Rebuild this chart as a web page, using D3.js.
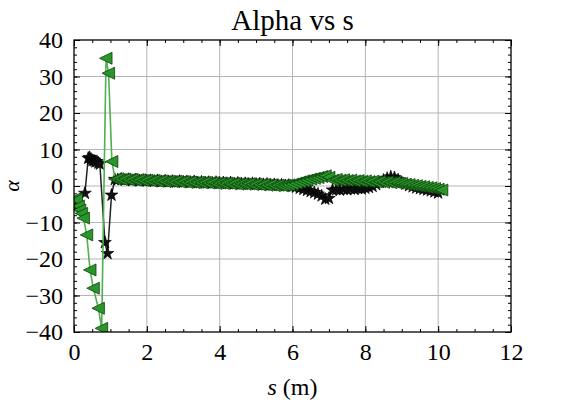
<!DOCTYPE html>
<html>
<head>
<meta charset="utf-8">
<script src="https://cdn.jsdelivr.net/npm/d3@7"></script>
<style>
  html, body { margin: 0; padding: 0; background: #fff; }
  svg { display: block; }
  text { font-family: "Liberation Serif", "Times New Roman", serif; fill: #000; }
</style>
</head>
<body>
<svg id="chart" width="576" height="406"></svg>
<script>
// ---- data ----
const sX = [0.06, 0.3, 0.39, 0.43, 0.47, 0.51, 0.55, 0.59, 0.63, 0.67, 0.71, 0.85, 0.92, 1.03, 1.12,
  1.2, 1.3, 1.4, 1.5, 1.6, 1.7, 1.8, 1.9, 2.0,
  2.1, 2.2, 2.3, 2.4, 2.5, 2.6, 2.7, 2.8, 2.9, 3.0,
  3.1, 3.2, 3.3, 3.4, 3.5, 3.6, 3.7, 3.8, 3.9, 4.0,
  4.1, 4.2, 4.3, 4.4, 4.5, 4.6, 4.7, 4.8, 4.9, 5.0,
  5.1, 5.2, 5.3, 5.4, 5.5, 5.6, 5.7, 5.8, 5.9, 6.0,
  6.1, 6.2, 6.3, 6.4, 6.5, 6.6, 6.7, 6.8, 6.9, 7.0,
  7.1, 7.2, 7.3, 7.4, 7.5, 7.6, 7.7, 7.8, 7.9, 8.0,
  8.1, 8.2, 8.3, 8.4, 8.5, 8.6, 8.7, 8.8, 8.9, 9.0,
  9.1, 9.2, 9.3, 9.4, 9.5, 9.6, 9.7, 9.8, 9.9, 10.0];
const alphaX = [-5.5, -2.0, 7.6, 7.8, 7.3, 7.0, 6.9, 6.6, 6.7, 6.3, 6.0, -15.5, -18.5, -2.5, 1.8,
  1.7, 1.9, 1.6, 1.8, 1.5, 1.7, 1.4, 1.6, 1.4,
  1.5, 1.3, 1.5, 1.2, 1.4, 1.2, 1.3, 1.1, 1.3, 1.1,
  1.2, 1.0, 1.2, 0.9, 1.1, 0.9, 1.0, 0.8, 1.0, 0.8,
  0.9, 0.7, 0.9, 0.6, 0.8, 0.6, 0.7, 0.5, 0.7, 0.5,
  0.6, 0.4, 0.5, 0.3, 0.4, 0.2, 0.3, 0.1, 0.2, -0.1,
  -0.3, -0.6, -0.9, -1.2, -1.5, -1.8, -2.2, -2.7, -3.6, -3.4,
  -1.1, -1.0, -1.1, -0.9, -1.0, -0.8, -0.9, -0.7, -0.8, -0.6,
  -0.4, -0.1, 0.4, 1.0, 1.6, 2.1, 2.5, 2.3, 1.7, 1.0,
  0.5, 0.1, -0.2, -0.5, -0.7, -0.9, -1.1, -1.3, -1.6, -1.9];

const sY = [0.03, 0.07, 0.12, 0.16, 0.21, 0.26, 0.35, 0.44, 0.53, 0.67, 0.76, 0.88, 0.95, 1.04, 1.13,
  1.2, 1.3, 1.4, 1.5, 1.6, 1.7, 1.8, 1.9, 2.0,
  2.1, 2.2, 2.3, 2.4, 2.5, 2.6, 2.7, 2.8, 2.9, 3.0,
  3.1, 3.2, 3.3, 3.4, 3.5, 3.6, 3.7, 3.8, 3.9, 4.0,
  4.1, 4.2, 4.3, 4.4, 4.5, 4.6, 4.7, 4.8, 4.9, 5.0,
  5.1, 5.2, 5.3, 5.4, 5.5, 5.6, 5.7, 5.8, 5.9, 6.0,
  6.1, 6.2, 6.3, 6.4, 6.5, 6.6, 6.7, 6.8, 6.9, 7.0,
  7.1, 7.2, 7.3, 7.4, 7.5, 7.6, 7.7, 7.8, 7.9, 8.0,
  8.1, 8.2, 8.3, 8.4, 8.5, 8.6, 8.7, 8.8, 8.9, 9.0,
  9.1, 9.2, 9.3, 9.4, 9.5, 9.6, 9.7, 9.8, 9.9, 10.0, 10.1];
const alphaY = [-3.5, -3.8, -5.5, -6.6, -7.5, -8.8, -13.4, -23.0, -28.0, -33.5, -39.0, 35.0, 30.9, 6.7, 1.9,
  2.0, 1.8, 1.9, 1.7, 1.8, 1.6, 1.7, 1.5, 1.6,
  1.4, 1.5, 1.3, 1.4, 1.2, 1.3, 1.2, 1.3, 1.1, 1.2,
  1.0, 1.1, 0.9, 1.0, 0.9, 1.0, 0.8, 0.9, 0.7, 0.8,
  0.7, 0.8, 0.6, 0.7, 0.5, 0.6, 0.5, 0.6, 0.4, 0.5,
  0.3, 0.4, 0.2, 0.3, 0.1, 0.2, 0.1, 0.2, 0.3, 0.5,
  0.8, 1.1, 1.4, 1.6, 1.9, 2.1, 2.3, 2.6, 2.8, 2.4,
  1.6, 1.8, 1.6, 1.7, 1.5, 1.6, 1.4, 1.5, 1.3, 1.4,
  1.2, 1.3, 1.1, 1.2, 1.0, 1.1, 0.9, 1.0, 0.8, 0.7,
  0.5, 0.4, 0.2, 0.1, -0.1, -0.2, -0.4, -0.5, -0.7, -0.9, -1.1];

const xTicks = [0, 2, 4, 6, 8, 10, 12];
const yTicks = [-40, -30, -20, -10, 0, 10, 20, 30, 40];
const titleText = "Alpha vs s";

// ---- layout ----
const FONT = "Liberation Serif, Times New Roman, serif";
const svg = d3.select("#chart");
const m = { left: 74, right: 511, top: 40, bottom: 332 };
const x = d3.scaleLinear().domain([0, 12]).range([m.left, m.right]);
const y = d3.scaleLinear().domain([-40, 40]).range([m.bottom, m.top]);
const W = m.right - m.left, H = m.bottom - m.top;

svg.append("defs").append("clipPath").attr("id", "clip")
  .append("rect").attr("x", m.left).attr("y", m.top).attr("width", W).attr("height", H);

// grid
const grid = svg.append("g");
grid.selectAll(".gx").data(xTicks.slice(1, -1)).join("line")
  .attr("x1", d => x(d)).attr("x2", d => x(d)).attr("y1", m.top).attr("y2", m.bottom)
  .attr("stroke", "#b5b5b5").attr("stroke-width", 1);
grid.selectAll(".gy").data(yTicks.slice(1, -1)).join("line")
  .attr("y1", d => y(d)).attr("y2", d => y(d)).attr("x1", m.left).attr("x2", m.right)
  .attr("stroke", "#b5b5b5").attr("stroke-width", 1);

// axes (ticks inward on all sides)
const xMinor = d3.range(0, 12.01, 0.5);
const yMinor = d3.range(-40, 40.01, 2);
function axisG(axis, tx, ty) {
  return svg.append("g").attr("transform", `translate(${tx},${ty})`).call(axis)
    .call(g => g.select(".domain").remove());
}
const tickStyle = g => g.selectAll("line").attr("stroke", "#000").attr("stroke-width", 1);
const labelStyle = g => g.attr("font-family", FONT).attr("font-size", 24)
  .selectAll("text").style("font-family", FONT).style("font-size", "24px");

axisG(d3.axisBottom(x).tickValues(xMinor).tickSize(-3).tickFormat(""), 0, m.bottom).call(tickStyle);
axisG(d3.axisTop(x).tickValues(xMinor).tickSize(-3).tickFormat(""), 0, m.top).call(tickStyle);
axisG(d3.axisLeft(y).tickValues(yMinor).tickSize(-3).tickFormat(""), m.left, 0).call(tickStyle);
axisG(d3.axisRight(y).tickValues(yMinor).tickSize(-3).tickFormat(""), m.right, 0).call(tickStyle);

const xb = axisG(d3.axisBottom(x).tickValues(xTicks).tickSize(-6).tickPadding(11).tickFormat(d3.format("d")), 0, m.bottom);
xb.call(tickStyle).call(labelStyle);
axisG(d3.axisTop(x).tickValues(xTicks).tickSize(-6).tickFormat(""), 0, m.top).call(tickStyle);
const yl = axisG(d3.axisLeft(y).tickValues(yTicks).tickSize(-6).tickPadding(11).tickFormat(d3.format("d")), m.left, 0);
yl.call(tickStyle).call(labelStyle);
axisG(d3.axisRight(y).tickValues(yTicks).tickSize(-6).tickFormat(""), m.right, 0).call(tickStyle);

// data
const plot = svg.append("g").attr("clip-path", "url(#clip)");
const dataX = sX.map((s, i) => [s, alphaX[i]]);
const dataY = sY.map((s, i) => [s, alphaY[i]]);
const line = d3.line().x(d => x(d[0])).y(d => y(d[1]));

plot.append("path").datum(dataX).attr("d", line)
  .attr("fill", "none").attr("stroke", "#222").attr("stroke-width", 1.5);
const star = d3.symbol().type(d3.symbolStar).size(50);
plot.selectAll(".st").data(dataX).join("path")
  .attr("d", star).attr("transform", d => `translate(${x(d[0])},${y(d[1])})`)
  .attr("fill", "#111").attr("stroke", "#000").attr("stroke-width", 0.7);

plot.append("path").datum(dataY).attr("d", line)
  .attr("fill", "none").attr("stroke", "#4fb04f").attr("stroke-width", 1.6);
const tri = "M-6.5,0L6,-6L6,6Z";
plot.selectAll(".tr").data(dataY).join("path")
  .attr("d", tri).attr("transform", d => `translate(${x(d[0])},${y(d[1])})`)
  .attr("fill", "#2a952a").attr("stroke", "#0c420c").attr("stroke-width", 0.8);

// frame
svg.append("rect").attr("x", m.left).attr("y", m.top).attr("width", W).attr("height", H)
  .attr("fill", "none").attr("stroke", "#000").attr("stroke-width", 1.3);

// title and labels
svg.append("text").attr("x", (m.left + m.right) / 2).attr("y", 30)
  .attr("text-anchor", "middle").style("font-size", "29px").text(titleText);
const xl = svg.append("text").attr("x", (m.left + m.right) / 2).attr("y", 395)
  .attr("text-anchor", "middle").style("font-size", "24px");
xl.append("tspan").style("font-style", "italic").text("s");
xl.append("tspan").text(" (m)");
svg.append("text").attr("transform", `translate(19,${(m.top + m.bottom) / 2}) rotate(-90)`)
  .attr("text-anchor", "middle").style("font-size", "22px").style("font-style", "italic").text("α");
</script>
</body>
</html>
